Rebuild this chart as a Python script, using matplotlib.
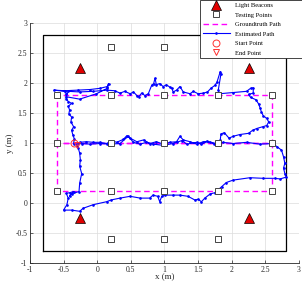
import matplotlib
matplotlib.use("Agg")
import matplotlib.pyplot as plt

plt.rcParams["font.family"] = ["Liberation Serif", "DejaVu Serif"]

# light beacons
beacon_x = [-0.25, 2.25, -0.25, 2.25]
beacon_y = [2.25, 2.25, -0.25, -0.25]

# testing points
test_x = [0.2, 1.0, 1.8,
          -0.6, 0.2, 1.0, 1.8, 2.6,
          -0.6, 0.2, 1.0, 1.8, 2.6,
          -0.6, 0.2, 1.0, 1.8, 2.6,
          0.2, 1.0, 1.8]
test_y = [2.6, 2.6, 2.6,
          1.8, 1.8, 1.8, 1.8, 1.8,
          1.0, 1.0, 1.0, 1.0, 1.0,
          0.2, 0.2, 0.2, 0.2, 0.2,
          -0.6, -0.6, -0.6]

# groundtruth figure-eight path
gt_x = [-0.6, -0.6, 2.6, 2.6, -0.6, 2.6, 2.6, -0.6, -0.6]
gt_y = [1.0, 1.8, 1.8, 1.0, 1.0, 1.0, 0.2, 0.2, 1.0]

# room boundary
room_x = [-0.8, 2.8, 2.8, -0.8, -0.8]
room_y = [-0.8, -0.8, 2.8, 2.8, -0.8]

# estimated path
est_x = [
    -0.35, -0.34, -0.36, -0.38, -0.35, -0.39, -0.38, -0.42, -0.41, -0.43,
    -0.38, -0.43, -0.46, -0.46, -0.48, -0.64,
    -0.48, -0.28, -0.11, 0.04, 0.15, 0.17, 0.15, -0.01, -0.26, -0.46,
    -0.43, -0.26, -0.06, 0.14, 0.26, 0.34, 0.41, 0.49, 0.54, 0.59,
    0.62, 0.66, 0.71, 0.76, 0.81, 0.84, 0.86, 0.88, 0.93, 0.98,
    1.03, 1.08, 1.11, 1.13, 1.18, 1.23, 1.28, 1.38, 1.43, 1.50,
    1.58, 1.64, 1.69, 1.75, 1.78, 1.83, 1.84, 1.80, 1.82, 2.02,
    2.22, 2.28, 2.32, 2.32, 2.25, 2.28, 2.36, 2.40, 2.42, 2.44,
    2.47, 2.52, 2.55, 2.52, 2.46, 2.37, 2.31, 2.25, 2.12, 2.02,
    1.96, 1.89, 1.84, 1.83, 1.78,
    1.68, 1.58, 1.48, 1.38, 1.28, 1.23, 1.18, 1.08, 0.98, 0.88,
    0.78, 0.69, 0.59, 0.49, 0.44, 0.39, 0.29, 0.21, 0.14, 0.04,
    -0.06, -0.16, -0.26, -0.30,
    -0.23, -0.11, 0.04, 0.19, 0.34, 0.46, 0.54, 0.64, 0.73, 0.83,
    0.98, 1.13, 1.26, 1.33, 1.48, 1.55, 1.63, 1.73, 1.80, 1.87,
    2.02, 2.22, 2.42, 2.61,
    2.67, 2.74, 2.77, 2.79, 2.77, 2.79, 2.81, 2.72, 2.64, 2.47,
    2.27, 2.02, 1.92, 1.85, 1.80, 1.75, 1.68, 1.60, 1.55, 1.50,
    1.45,
    1.35, 1.23, 1.13, 1.01, 0.96, 0.93, 0.90, 0.83, 0.78, 0.64,
    0.49, 0.34, 0.21, 0.14, -0.06, -0.21, -0.26, -0.38, -0.50, -0.45,
    -0.43, -0.46, -0.41, -0.35, -0.41, -0.38, -0.27,
    -0.26, -0.23, -0.26, -0.25, -0.26, -0.28, -0.30,
]
est_y = [
    0.99, 1.07, 1.13, 1.21, 1.27, 1.35, 1.43, 1.49, 1.55, 1.61,
    1.66, 1.69, 1.74, 1.82, 1.86, 1.88,
    1.87, 1.88, 1.89, 1.91, 1.94, 1.99, 1.91, 1.82, 1.73, 1.77,
    1.86, 1.85, 1.86, 1.88, 1.87, 1.83, 1.86, 1.82, 1.85, 1.79,
    1.77, 1.83, 1.79, 1.82, 1.96, 1.99, 2.08, 1.97, 1.99, 1.94,
    1.97, 1.93, 1.91, 1.85, 1.88, 1.94, 1.85, 1.82, 1.86, 1.82,
    1.83, 1.85, 1.91, 1.96, 2.01, 2.19, 2.15, 1.88, 1.82, 1.84,
    1.86, 1.91, 1.92, 1.83, 1.81, 1.76, 1.72, 1.65, 1.59, 1.52,
    1.45, 1.41, 1.35, 1.29, 1.27, 1.24, 1.21, 1.16, 1.14, 1.11,
    1.08, 1.17, 1.15, 1.05, 0.99,
    1.01, 1.02, 0.98, 1.02, 1.05, 1.11, 1.02, 1.01, 0.98, 1.02,
    0.99, 1.05, 1.02, 1.08, 1.12, 1.06, 1.01, 1.04, 0.99, 1.01,
    1.01, 1.02, 1.01, 0.98,
    0.99, 0.98, 0.99, 0.98, 0.99, 1.11, 1.01, 0.98, 1.01, 0.98,
    0.96, 0.99, 1.04, 0.98, 1.01, 0.98, 1.03, 0.99, 0.98, 1.01,
    0.99, 1.01, 0.98, 0.99,
    0.94, 0.88, 0.77, 0.66, 0.58, 0.49, 0.43, 0.40, 0.41, 0.41,
    0.42, 0.38, 0.34, 0.27, 0.22, 0.17, 0.15, 0.08, 0.02, 0.06,
    0.05,
    0.11, 0.13, 0.13, 0.13, 0.11, 0.02, 0.11, 0.13, 0.08, 0.08,
    0.11, 0.08, 0.05, 0.02, -0.03, -0.09, -0.14, -0.12, -0.12, -0.03,
    0.08, 0.16, 0.17, 0.19, 0.11, 0.15, 0.19,
    0.33, 0.49, 0.61, 0.72, 0.83, 0.91, 0.95,
]

start_x, start_y = [-0.35], [1.0]
end_x, end_y = [-0.30], [0.96]

fig = plt.figure(figsize=(3.02, 2.87), dpi=100)
ax = fig.add_axes([0.099, 0.084, 0.891, 0.836])

ax.plot(room_x, room_y, color="black", lw=0.9, zorder=2)
h_beacon, = ax.plot(beacon_x, beacon_y, "^", color="#e00000", mec="black",
                    mew=0.5, ms=6.5, ls="none", zorder=5, label="Light Beacons")
h_test, = ax.plot(test_x, test_y, "s", mfc="white", mec="#444444", mew=0.7,
                  ms=3.8, ls="none", zorder=4, label="Testing Points")
h_gt, = ax.plot(gt_x, gt_y, color="#ff00ff", lw=1.0, ls=(0, (4, 2.5)),
                zorder=3, label="Groundtruth Path")
h_est, = ax.plot(est_x, est_y, color="#0000ff", lw=0.8, marker=".", ms=1.8,
                 zorder=3.5, label="Estimated Path")
h_start, = ax.plot(start_x, start_y, "o", mfc="none", mec="#ff3030", mew=0.7,
                   ms=5, ls="none", zorder=6, label="Start Point")
h_end, = ax.plot(end_x, end_y, "v", mfc="none", mec="#ff3030", mew=0.7,
                 ms=5, ls="none", zorder=6, label="End Point")

ax.set_xlim(-1, 3)
ax.set_ylim(-1, 3)
ax.set_xticks([-1, -0.5, 0, 0.5, 1, 1.5, 2, 2.5, 3])
ax.set_yticks([-1, -0.5, 0, 0.5, 1, 1.5, 2, 2.5, 3])
ax.set_xticklabels(["-1", "-0.5", "0", "0.5", "1", "1.5", "2", "2.5", "3"])
ax.set_yticklabels(["-1", "-0.5", "0", "0.5", "1", "1.5", "2", "2.5", "3"])
ax.tick_params(direction="in", length=2, width=0.5, labelsize=5.5,
               colors="#262626", pad=2)
ax.grid(True, color="#dcdcdc", lw=0.5)
ax.set_axisbelow(True)
for side in ["top", "right"]:
    ax.spines[side].set_visible(False)
for side in ["left", "bottom"]:
    ax.spines[side].set_color("#262626")
    ax.spines[side].set_linewidth(0.6)
ax.set_xlabel("x (m)", fontsize=6.5, color="#262626", labelpad=0)
ax.set_ylabel("y (m)", fontsize=6.5, color="#262626", labelpad=1)

leg = fig.legend(handles=[h_beacon, h_test, h_gt, h_est, h_start, h_end],
                 loc="upper left", bbox_to_anchor=(200 / 302, 0.0, 102 / 302, 1.0),
                 mode="expand", fontsize=4.7,
                 frameon=True, fancybox=False, edgecolor="#262626",
                 framealpha=1, handlelength=4.2, handletextpad=0.8,
                 labelspacing=0.6, borderpad=0.4, borderaxespad=0.0)
leg.get_frame().set_linewidth(0.6)

fig.savefig("out.png", dpi=100)
